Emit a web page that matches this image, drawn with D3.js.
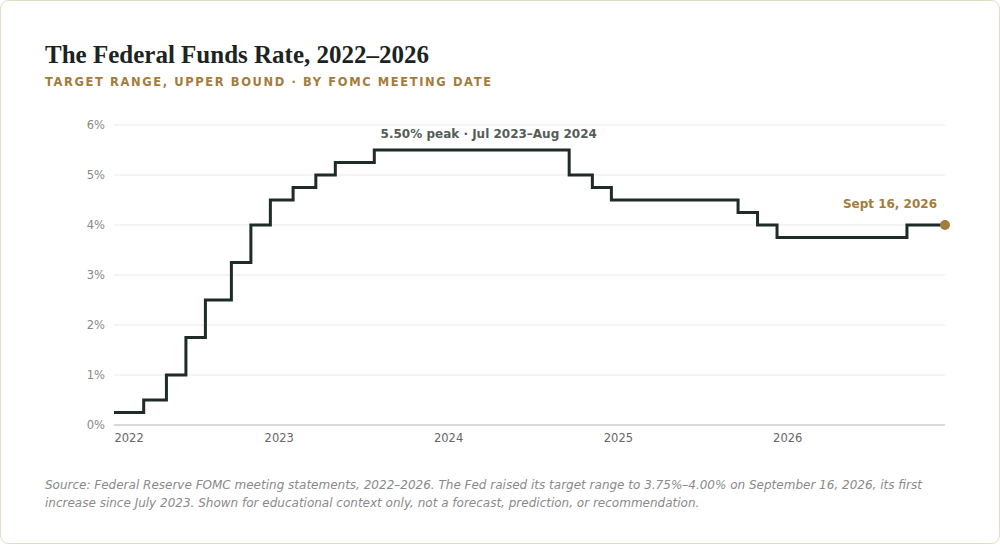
<!DOCTYPE html>
<html>
<head>
<meta charset="utf-8">
<script src="https://cdn.jsdelivr.net/npm/d3@7"></script>
<style>
  body { margin: 0; background: #fff; }
  svg { display: block; }
</style>
</head>
<body>
<div id="chart"></div>
<script>
// FOMC decisions: date and upper bound of target range (%)
var meetingDates = ["2022-01-11", "2022-03-16", "2022-05-04", "2022-06-15", "2022-07-27", "2022-09-21",
    "2022-11-02", "2022-12-14", "2023-02-01", "2023-03-22", "2023-05-03", "2023-07-26",
    "2024-09-18", "2024-11-07", "2024-12-18", "2025-09-17", "2025-10-29", "2025-12-10", "2026-09-16"];
var upperBound = [0.25, 0.5, 1.0, 1.75, 2.5, 3.25, 4.0, 4.5, 4.75, 5.0, 5.25, 5.5,
    5.0, 4.75, 4.5, 4.25, 4.0, 3.75, 4.0];
var endDate = "2026-12-07";
var yTicks = [0, 1, 2, 3, 4, 5, 6];
var xTickYears = [2022, 2023, 2024, 2025, 2026];

var W = 1000, H = 545;
var parse = d3.timeParse("%Y-%m-%d");

var data = meetingDates.map(function (d, i) { return { date: parse(d), rate: upperBound[i] }; });
var last = { date: parse(endDate), rate: upperBound[upperBound.length - 1] };
var lineData = data.concat([last]);

var svg = d3.select("#chart").append("svg").attr("width", W).attr("height", H);

// card
svg.append("rect").attr("x", 0.5).attr("y", 0.5).attr("width", W - 1).attr("height", H - 2)
    .attr("rx", 8).attr("fill", "#fff").attr("stroke", "#e3dac4");

svg.append("text").attr("x", 45).attr("y", 63)
    .attr("font-family", "Liberation Serif, serif").attr("font-weight", "bold")
    .attr("font-size", 25).attr("fill", "#1c2421")
    .text("The Federal Funds Rate, 2022–2026");

svg.append("text").attr("x", 45).attr("y", 86)
    .attr("font-family", "DejaVu Sans, sans-serif").attr("font-weight", "bold")
    .attr("font-size", 11.5).attr("letter-spacing", "1.6px").attr("fill", "#a47c3b")
    .text("TARGET RANGE, UPPER BOUND · BY FOMC MEETING DATE");

var x = d3.scaleTime().domain([lineData[0].date, last.date]).range([114, 945]);
var y = d3.scaleLinear().domain([0, 6]).range([425, 125]);

// grid
svg.append("g").selectAll("line").data(yTicks.slice(1)).enter().append("line")
    .attr("x1", 114).attr("x2", 945)
    .attr("y1", function (d) { return y(d); }).attr("y2", function (d) { return y(d); })
    .attr("stroke", "#f0f0ee").attr("stroke-width", 1.5);

svg.append("g").selectAll("text").data(yTicks).enter().append("text")
    .attr("x", 105).attr("y", function (d) { return y(d) + 4; })
    .attr("text-anchor", "end").attr("font-family", "DejaVu Sans, sans-serif")
    .attr("font-size", 11.5).attr("fill", "#888")
    .text(function (d) { return d + "%"; });

svg.append("line").attr("x1", 114).attr("x2", 945).attr("y1", y(0)).attr("y2", y(0))
    .attr("stroke", "#ccc").attr("stroke-width", 1.5);

var xAxis = svg.append("g").attr("transform", "translate(0," + y(0) + ")")
    .call(d3.axisBottom(x).tickValues(xTickYears.map(function (yr) { return new Date(yr, 0, 1); }))
        .tickFormat(d3.timeFormat("%Y")).tickSize(0).tickPadding(9));
xAxis.select(".domain").remove();
xAxis.selectAll("text").attr("font-family", "DejaVu Sans, sans-serif")
    .attr("font-size", 11.5).attr("fill", "#666")
    .attr("text-anchor", function (d, i) { return i === 0 ? "start" : "middle"; })
    .attr("dx", function (d, i) { return i === 0 ? "0" : "0"; });
xAxis.select("text").attr("x", 114 - x(new Date(2022, 0, 1)));

// step line
var line = d3.line().x(function (d) { return x(d.date); }).y(function (d) { return y(d.rate); })
    .curve(d3.curveStepAfter);
svg.append("path").datum(lineData).attr("d", line)
    .attr("fill", "none").attr("stroke", "#1e2b26").attr("stroke-width", 3);

svg.append("circle").attr("cx", x(last.date)).attr("cy", y(last.rate)).attr("r", 5)
    .attr("fill", "#a47c3b");

// annotations
var peakStart = data[11], peakEnd = data[12];
svg.append("text").attr("x", (x(peakStart.date) + x(peakEnd.date)) / 2 + 17).attr("y", y(5.5) - 12)
    .attr("text-anchor", "middle").attr("font-family", "DejaVu Sans, sans-serif")
    .attr("font-weight", "bold").attr("font-size", 12).attr("fill", "#555c58")
    .text("5.50% peak · Jul 2023–Aug 2024");

svg.append("text").attr("x", x(last.date) - 8).attr("y", y(last.rate) - 17)
    .attr("text-anchor", "end").attr("font-family", "DejaVu Sans, sans-serif")
    .attr("font-weight", "bold").attr("font-size", 12).attr("fill", "#a47c3b")
    .text("Sept 16, 2026");

var src = svg.append("text").attr("font-family", "DejaVu Sans, sans-serif")
    .attr("font-style", "italic").attr("font-size", 12).attr("fill", "#8a8a8a");
src.append("tspan").attr("x", 45).attr("y", 489)
    .text("Source: Federal Reserve FOMC meeting statements, 2022–2026. The Fed raised its target range to 3.75%–4.00% on September 16, 2026, its first");
src.append("tspan").attr("x", 45).attr("y", 507)
    .text("increase since July 2023. Shown for educational context only, not a forecast, prediction, or recommendation.");
</script>
</body>
</html>
